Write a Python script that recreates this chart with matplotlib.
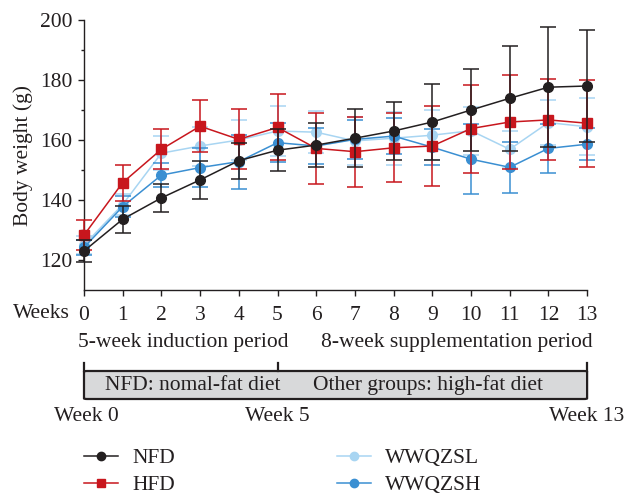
import matplotlib
matplotlib.use("Agg")
import matplotlib.pyplot as plt
from matplotlib.lines import Line2D
from matplotlib.patches import FancyBboxPatch
import numpy as np

# body weight data (mean and error, g)
weeks = np.arange(14)
nfd_mean = [123.0, 133.6, 140.7, 146.7, 153.1, 156.6, 158.3, 160.6, 163.0, 166.0, 170.0, 173.9, 177.6, 178.0]
nfd_err = [3.6, 4.5, 4.8, 6.3, 6.0, 7.0, 7.3, 9.6, 9.7, 12.7, 13.8, 17.5, 20.0, 18.7]
hfd_mean = [128.3, 145.8, 156.9, 164.6, 160.2, 164.2, 157.2, 156.1, 157.4, 158.0, 163.8, 166.0, 166.7, 165.6]
hfd_err = [5.0, 6.0, 6.7, 8.7, 10.0, 11.0, 11.7, 11.7, 11.5, 13.4, 14.7, 15.6, 13.5, 14.5]
sl_mean = [125.0, 138.5, 155.6, 158.0, 160.0, 163.0, 162.6, 159.7, 160.6, 161.6, 163.1, 156.9, 165.8, 164.4]
sl_err = [3.0, 3.5, 5.7, 6.5, 6.7, 8.2, 7.0, 8.0, 8.8, 8.4, 8.0, 6.2, 7.5, 9.5]
sh_mean = [124.2, 137.8, 148.3, 150.8, 152.8, 159.1, 158.0, 160.2, 161.3, 157.6, 153.6, 150.9, 157.2, 158.6]
sh_err = [2.5, 3.5, 4.0, 6.5, 9.0, 6.5, 6.0, 6.5, 6.0, 6.0, 11.6, 8.6, 8.3, 5.3]

groups = ["NFD", "HFD", "WWQZSL", "WWQZSH"]
colors = ["#231f20", "#c8161d", "#a8d5f2", "#3a8fd2"]
markers = ["o", "s", "o", "o"]
ink = "#231f20"

plt.rcParams["font.family"] = ["Liberation Serif", "DejaVu Serif"]
plt.rcParams["font.size"] = 15.5

fig = plt.figure(figsize=(6.24, 4.96), dpi=100)
W, H = 624.0, 496.0
ax = fig.add_axes([84 / W, 1 - 290 / H, (587.1 - 84) / W, 270 / H])

series = [(nfd_mean, nfd_err), (hfd_mean, hfd_err), (sl_mean, sl_err), (sh_mean, sh_err)]
zorders = [6, 5, 3, 4]
for (m, e), c, mk, z in zip(series, colors, markers, zorders):
    ax.errorbar(weeks, m, yerr=e, color=c, marker=mk, ms=7, lw=1.1,
                elinewidth=1.1, capsize=6, capthick=1.1, zorder=z,
                clip_on=False)

ax.set_xlim(0, 13)
ax.set_ylim(110, 200)
ax.set_yticks([120, 140, 160, 180, 200])
ax.set_yticks([130, 150, 170, 190], minor=True)
ax.set_xticks(weeks)
ax.spines["top"].set_visible(False)
ax.spines["right"].set_visible(False)
for s in ["left", "bottom"]:
    ax.spines[s].set_color(ink)
    ax.spines[s].set_linewidth(1.0)
ax.tick_params(axis="both", which="major", length=4.5, width=1.0, color=ink, labelcolor=ink)
ax.tick_params(axis="y", which="minor", length=2.5, width=1.0, color=ink)
ax.tick_params(axis="y", pad=4)
ax.tick_params(axis="x", pad=7)
ax.set_ylabel("Body weight (g)", color=ink, labelpad=5)
fig.text(70 / W, 1 - 314 / H, "Weeks", ha="right", va="center", color=ink)

# timeline panel below the chart, same x range
tl = fig.add_axes([84 / W, 1 - 430 / H, (587.1 - 84) / W, 100 / H])
tl.set_xlim(0, 13)
tl.set_ylim(100, 0)
tl.axis("off")
tl.text(2.57, 12.7, "5-week induction period", ha="center", va="center", color=ink)
tl.text(9.63, 12.7, "8-week supplementation period", ha="center", va="center", color=ink)
box = FancyBboxPatch((0, 41), 13, 28, boxstyle="round,pad=0,rounding_size=0.08",
                     fc="#d8d9da", ec=ink, lw=1.6, clip_on=False, mutation_aspect=8)
tl.add_patch(box)
for xb in [0, 5, 13]:
    tl.plot([xb, xb], [33, 41], color=ink, lw=1.6, clip_on=False)
tl.text(2.8, 55, "NFD: nomal-fat diet", ha="center", va="center", color=ink)
tl.text(8.9, 55, "Other groups: high-fat diet", ha="center", va="center", color=ink)
for xw, lab in zip([0.05, 5, 13], ["Week 0", "Week 5", "Week 13"]):
    tl.text(xw, 86.7, lab, ha="center", va="center", color=ink, clip_on=False)

handles = [Line2D([], [], color=c, marker=mk, ms=6, lw=1.1) for c, mk in zip(colors, markers)]
fig.legend(handles, groups, ncol=2, loc="upper left", bbox_to_anchor=(84 / W, 1 - 448 / H),
           frameon=False, borderpad=0, borderaxespad=0, handlelength=1.58,
           handletextpad=0.67, columnspacing=7.5, labelspacing=0.34, labelcolor=ink)

fig.savefig("out.png", dpi=100)
